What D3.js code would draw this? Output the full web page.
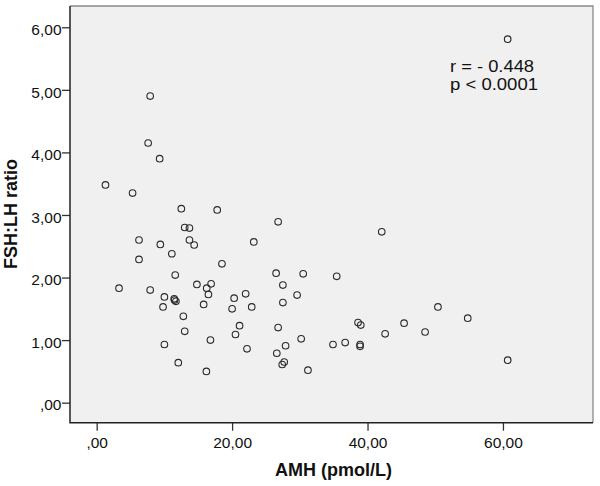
<!DOCTYPE html>
<html>
<head>
<meta charset="utf-8">
<script src="https://cdn.jsdelivr.net/npm/d3@7"></script>
<style>
body { margin: 0; background: #fff; }
text { font-family: Arial, "Liberation Sans", sans-serif; }
</style>
</head>
<body>
<svg id="chart" width="600" height="486"></svg>
<script>
// AMH (pmol/L)
const amh = [7.9, 7.6, 9.3, 1.3, 5.3, 12.5, 13.0, 13.7, 6.25, 13.7, 14.4, 9.4, 11.1, 6.25, 11.6, 14.8,
  3.3, 7.9, 10.0, 11.45, 11.7, 11.5, 9.8, 12.8, 13.0, 10.0, 12.05, 17.8, 18.5, 16.25, 16.9, 16.5,
  15.8, 16.8, 16.2, 26.8, 42.1, 23.2, 26.5, 30.5, 35.45, 27.5, 22.0, 20.3, 29.6, 20.0, 22.9, 27.5,
  21.1, 20.5, 26.8, 38.6, 39.0, 42.6, 22.2, 27.9, 30.2, 34.9, 36.7, 38.9, 38.9, 26.6, 27.7, 27.4,
  31.2, 60.7, 50.4, 54.8, 45.4, 48.5, 60.7];
// FSH:LH ratio
const ratio = [4.90, 4.15, 3.90, 3.48, 3.35, 3.10, 2.80, 2.79, 2.60, 2.60, 2.52, 2.53, 2.38, 2.29, 2.04, 1.89,
  1.83, 1.80, 1.69, 1.66, 1.62, 1.64, 1.53, 1.38, 1.14, 0.93, 0.64, 3.08, 2.22, 1.83, 1.90, 1.73,
  1.57, 1.00, 0.50, 2.89, 2.73, 2.57, 2.07, 2.06, 2.02, 1.88, 1.74, 1.67, 1.72, 1.50, 1.53, 1.60,
  1.23, 1.09, 1.20, 1.28, 1.24, 1.10, 0.86, 0.91, 1.02, 0.93, 0.96, 0.93, 0.90, 0.79, 0.65, 0.61,
  0.52, 5.81, 1.53, 1.35, 1.27, 1.13, 0.68];
const xTicks = [0, 20, 40, 60];
const xTickLabels = [",00", "20,00", "40,00", "60,00"];
const yTicks = [0, 1, 2, 3, 4, 5, 6];
const yTickLabels = [",00", "1,00", "2,00", "3,00", "4,00", "5,00", "6,00"];
const xTitle = "AMH (pmol/L)";
const yTitle = "FSH:LH ratio";
const annot = ["r = - 0.448", "p < 0.0001"];

const L = 70, R = 593, T = 6, B = 422.7;
const svg = d3.select("#chart");
const x = d3.scaleLinear().domain([-3.94, 73.3]).range([L, R]);
const y = d3.scaleLinear().domain([-0.32, 6.34]).range([B, T]);

svg.append("rect").attr("x", L).attr("y", T).attr("width", R - L).attr("height", B - T)
  .attr("fill", "#f0f0f0").attr("stroke", "none");
// top & right border
svg.append("path").attr("d", `M${L},${T}H${R}V${B}`).attr("fill", "none")
  .attr("stroke", "#8a8a8a").attr("stroke-width", 1.3);

const xAxis = svg.append("g").attr("transform", `translate(0,${B})`)
  .call(d3.axisBottom(x).tickValues(xTicks).tickSize(8).tickSizeOuter(0)
    .tickFormat((d, i) => xTickLabels[i]));
xAxis.select(".domain").remove();
xAxis.selectAll(".tick line").attr("stroke", "#333").attr("stroke-width", 1.3);
xAxis.selectAll(".tick text").attr("font-size", "15.5px").attr("fill", "#111")
  .attr("y", 0).attr("dy", "25.5px").attr("font-family", "Arial, 'Liberation Sans', sans-serif");

const yAxis = svg.append("g").attr("transform", `translate(${L},0)`)
  .call(d3.axisLeft(y).tickValues(yTicks).tickSize(8).tickSizeOuter(0)
    .tickFormat((d, i) => yTickLabels[i]));
yAxis.select(".domain").remove();
yAxis.selectAll(".tick line").attr("stroke", "#333").attr("stroke-width", 1.3);
yAxis.selectAll(".tick text").attr("font-size", "15.5px").attr("fill", "#111")
  .attr("x", -8.5).attr("dy", "7.3px").attr("font-family", "Arial, 'Liberation Sans', sans-serif");

// left & bottom axis lines
svg.append("path").attr("d", `M${L},${T}V${B}H${R}`).attr("fill", "none")
  .attr("stroke", "#222").attr("stroke-width", 1.5);

svg.append("g").selectAll("circle").data(amh.map((d, i) => [d, ratio[i]])).join("circle")
  .attr("cx", d => x(d[0])).attr("cy", d => y(d[1])).attr("r", 3.3)
  .attr("fill", "none").attr("stroke", "#2a2a2a").attr("stroke-width", 1.1);

svg.append("text").attr("x", (L + R) / 2 + 2).attr("y", 476).attr("text-anchor", "middle")
  .attr("font-size", "18px").attr("font-weight", "bold").attr("fill", "#111").text(xTitle);
svg.append("text").attr("transform", "translate(17,214) rotate(-90)").attr("text-anchor", "middle")
  .attr("font-size", "18px").attr("font-weight", "bold").attr("fill", "#111").text(yTitle);

const annotLen = [84, 88];
svg.append("g").selectAll("text").data(annot).join("text")
  .attr("x", 450).attr("y", (d, i) => 71.5 + i * 18.5)
  .attr("font-size", "16px").attr("fill", "#111")
  .attr("textLength", (d, i) => annotLen[i]).attr("lengthAdjust", "spacingAndGlyphs")
  .text(d => d);
</script>
</body>
</html>
